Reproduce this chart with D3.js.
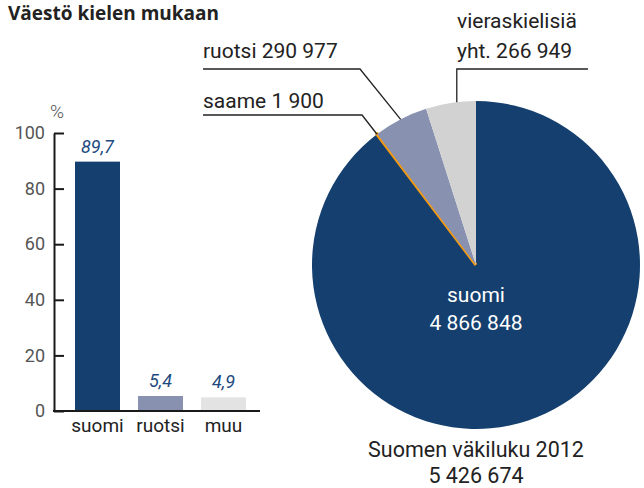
<!DOCTYPE html>
<html>
<head>
<meta charset="utf-8">
<script src="https://cdn.jsdelivr.net/npm/d3@7"></script>
<style>
  body { margin: 0; background: #fff; }
  svg text { font-family: Roboto, "Open Sans", sans-serif; }
</style>
</head>
<body>
<div id="chart"></div>
<script>
var width = 644;
var height = 488;

// bar chart data (percent)
var barCategories = ['suomi', 'ruotsi', 'muu'];
var barValues = [89.7, 5.4, 4.9];
var barLabels = ['89,7', '5,4', '4,9'];
var barColors = ['#143f6e', '#8991b1', '#e3e3e3'];
var yTicks = [0, 20, 40, 60, 80, 100];

// pie data (persons), clockwise from top
var pieNames = ['suomi', 'saame', 'ruotsi', 'vieras'];
var pieValues = [4866848, 1900, 290977, 266949];
var pieColors = ['#143f6e', '#f39a12', '#8991b1', '#d2d2d2'];

var svg = d3.select('#chart')
  .append('svg')
  .attr('width', width)
  .attr('height', height);

svg.append('text')
  .attr('x', 8)
  .attr('y', 20)
  .style('font-size', '19px')
  .style('font-weight', 'bold')
  .style('font-family', '"Open Sans", sans-serif')
  .attr('fill', '#222')
  .text('Väestö kielen mukaan');

// ---- bars ----
var y = d3.scaleLinear().domain([0, 100]).range([411, 133]);
var x = d3.scaleBand()
  .domain(barCategories)
  .range([66, 255])
  .paddingInner(0.286)
  .paddingOuter(0.143);

var yAxis = d3.axisLeft(y)
  .tickValues(yTicks)
  .tickSizeInner(-10)
  .tickSizeOuter(0)
  .tickPadding(9);

var gy = svg.append('g')
  .attr('transform', 'translate(54,0)')
  .call(yAxis);
gy.select('.domain').attr('stroke', '#1a1a1a').attr('stroke-width', 2);
gy.selectAll('.tick line').attr('stroke', '#1a1a1a').attr('stroke-width', 2);
gy.selectAll('.tick text')
  .style('font-size', '18px')
  .style('font-family', 'Roboto, sans-serif')
  .attr('fill', '#555');

svg.append('text')
  .attr('x', 57)
  .attr('y', 118)
  .attr('text-anchor', 'middle')
  .style('font-size', '19px')
  .style('font-weight', '300')
  .attr('fill', '#555')
  .text('%');

svg.selectAll('rect.bar')
  .data(barValues)
  .enter()
  .append('rect')
  .attr('class', 'bar')
  .attr('x', function(d, i){ return x(barCategories[i]); })
  .attr('y', function(d){ return y(d); })
  .attr('width', x.bandwidth())
  .attr('height', function(d){ return y(0) - y(d); })
  .attr('fill', function(d, i){ return barColors[i]; });

svg.selectAll('text.val')
  .data(barValues)
  .enter()
  .append('text')
  .attr('class', 'val')
  .attr('x', function(d, i){ return x(barCategories[i]) + x.bandwidth() / 2; })
  .attr('y', function(d){ return y(d) - 9; })
  .attr('text-anchor', 'middle')
  .style('font-size', '18px')
  .style('font-style', 'italic')
  .attr('fill', '#1d4a7e')
  .text(function(d, i){ return barLabels[i]; });

svg.append('line')
  .attr('x1', 53)
  .attr('x2', 260)
  .attr('y1', y(0))
  .attr('y2', y(0))
  .attr('stroke', '#1a1a1a')
  .attr('stroke-width', 2);

svg.selectAll('text.cat')
  .data(barCategories)
  .enter()
  .append('text')
  .attr('class', 'cat')
  .attr('x', function(d){ return x(d) + x.bandwidth() / 2; })
  .attr('y', 432)
  .attr('text-anchor', 'middle')
  .style('font-size', '19px')
  .attr('fill', '#222')
  .text(function(d){ return d; });

// ---- pie ----
var cx = 476, cy = 265, radius = 164;
var pie = d3.pie().sort(null).value(function(d){ return d; });
var arcs = pie(pieValues);
var arc = d3.arc().innerRadius(0).outerRadius(radius);

var gp = svg.append('g').attr('transform', 'translate(' + cx + ',' + cy + ')');
gp.selectAll('path')
  .data(arcs)
  .enter()
  .append('path')
  .attr('d', arc)
  .attr('fill', function(d, i){ return pieColors[i]; })
  .attr('stroke', function(d, i){ return pieNames[i] === 'saame' ? pieColors[i] : 'none'; })
  .attr('stroke-width', 3.2);

function edgePoint(a, r){
  return [cx + r * Math.sin(a), cy - r * Math.cos(a)];
}

// leader lines
var ruotsiPt = edgePoint((arcs[2].startAngle + arcs[2].endAngle) / 2, radius);
var saamePt = edgePoint(arcs[1].startAngle, radius);
var vierasPt = edgePoint(arcs[3].startAngle + 0.62 * (arcs[3].endAngle - arcs[3].startAngle), radius);

var leaders = [
  [[203, 69], [360, 69], ruotsiPt],
  [[203, 115], [362, 115], saamePt],
  [[588, 69], [vierasPt[0], 69], vierasPt]
];
svg.selectAll('path.leader')
  .data(leaders)
  .enter()
  .append('path')
  .attr('class', 'leader')
  .attr('d', d3.line())
  .attr('fill', 'none')
  .attr('stroke', '#222')
  .attr('stroke-width', 1.3);

var pieLabelSize = '21px';
svg.append('text')
  .attr('x', 203).attr('y', 58)
  .style('font-size', pieLabelSize).attr('fill', '#222')
  .text('ruotsi 290 977');
svg.append('text')
  .attr('x', 203).attr('y', 108)
  .style('font-size', pieLabelSize).attr('fill', '#222')
  .text('saame 1 900');
svg.append('text')
  .attr('x', 457).attr('y', 28)
  .style('font-size', pieLabelSize).attr('fill', '#222')
  .text('vieraskielisiä');
svg.append('text')
  .attr('x', 457).attr('y', 58)
  .style('font-size', pieLabelSize).attr('fill', '#222')
  .text('yht. 266 949');

svg.append('text')
  .attr('x', cx).attr('y', 302)
  .attr('text-anchor', 'middle')
  .style('font-size', pieLabelSize).attr('fill', '#fff')
  .text('suomi');
svg.append('text')
  .attr('x', cx).attr('y', 330)
  .attr('text-anchor', 'middle')
  .style('font-size', pieLabelSize).attr('fill', '#fff')
  .text('4 866 848');

svg.append('text')
  .attr('x', cx).attr('y', 457)
  .attr('text-anchor', 'middle')
  .style('font-size', '21.5px').attr('fill', '#222')
  .text('Suomen väkiluku 2012');
svg.append('text')
  .attr('x', cx).attr('y', 483)
  .attr('text-anchor', 'middle')
  .style('font-size', '21.5px').attr('fill', '#222')
  .text('5 426 674');
</script>
</body>
</html>
